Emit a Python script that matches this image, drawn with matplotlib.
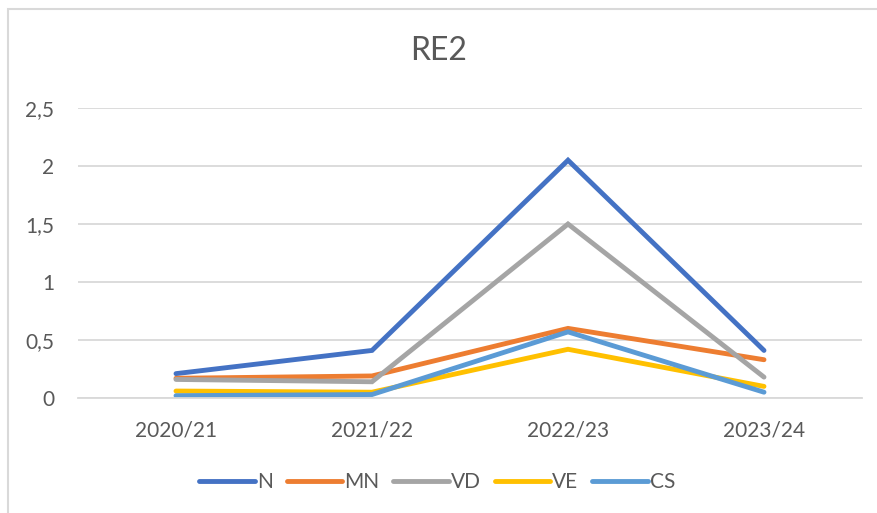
import matplotlib.pyplot as plt
from matplotlib.patches import Rectangle
from matplotlib.ticker import FuncFormatter

plt.rcParams['font.family'] = ['Lato', 'DejaVu Sans']

seasons = ['2020/21', '2021/22', '2022/23', '2023/24']
n_vals = [0.21, 0.41, 2.05, 0.41]
mn_vals = [0.17, 0.19, 0.60, 0.33]
vd_vals = [0.16, 0.14, 1.50, 0.18]
ve_vals = [0.06, 0.05, 0.42, 0.10]
cs_vals = [0.02, 0.03, 0.57, 0.05]

series = [
    ('N', n_vals, '#4472C4'),
    ('MN', mn_vals, '#ED7D31'),
    ('VD', vd_vals, '#A5A5A5'),
    ('VE', ve_vals, '#FFC000'),
    ('CS', cs_vals, '#5B9BD5'),
]

text_col = '#595959'
grid_col = '#D9D9D9'

fig = plt.figure(figsize=(8.78, 5.13), dpi=100)
ax = fig.add_axes([78 / 878, 1 - 398 / 513, (862 - 78) / 878, (398 - 108) / 513])

x = range(len(seasons))
for name, vals, col in series:
    ax.plot(x, vals, color=col, lw=3.5, label=name, solid_capstyle='round',
            solid_joinstyle='miter')

ax.set_xlim(-0.5, 3.5)
ax.set_ylim(0, 2.5)
ax.set_yticks([0, 0.5, 1, 1.5, 2, 2.5])
ax.yaxis.set_major_formatter(FuncFormatter(lambda v, p: f'{v:g}'.replace('.', ',')))
ax.set_xticks(list(x))
ax.set_xticklabels(seasons)
ax.grid(axis='y', color=grid_col, lw=1.3)
ax.set_axisbelow(True)
for s in ['top', 'right', 'left']:
    ax.spines[s].set_visible(False)
ax.spines['bottom'].set_color(grid_col)
ax.spines['bottom'].set_linewidth(1.3)
ax.tick_params(axis='both', length=0, labelsize=15, labelcolor=text_col)
ax.tick_params(axis='x', pad=16)
ax.tick_params(axis='y', pad=17)

fig.text(0.5, 1 - 51 / 513, 'RE2', ha='center', va='center', fontsize=23, color=text_col)

leg = fig.legend(loc='center', bbox_to_anchor=(0.498, 1 - 482 / 513), ncol=5, frameon=False,
                 fontsize=15, handlelength=2.65, handletextpad=0.1, columnspacing=0.68)
for t in leg.get_texts():
    t.set_color(text_col)

fig.patches.append(Rectangle((8 / 878, -0.1), 1.2, 1 - 9 / 513 + 0.1, transform=fig.transFigure,
                             fill=False, edgecolor=grid_col, lw=1.5))

fig.savefig('out.png', dpi=100)
